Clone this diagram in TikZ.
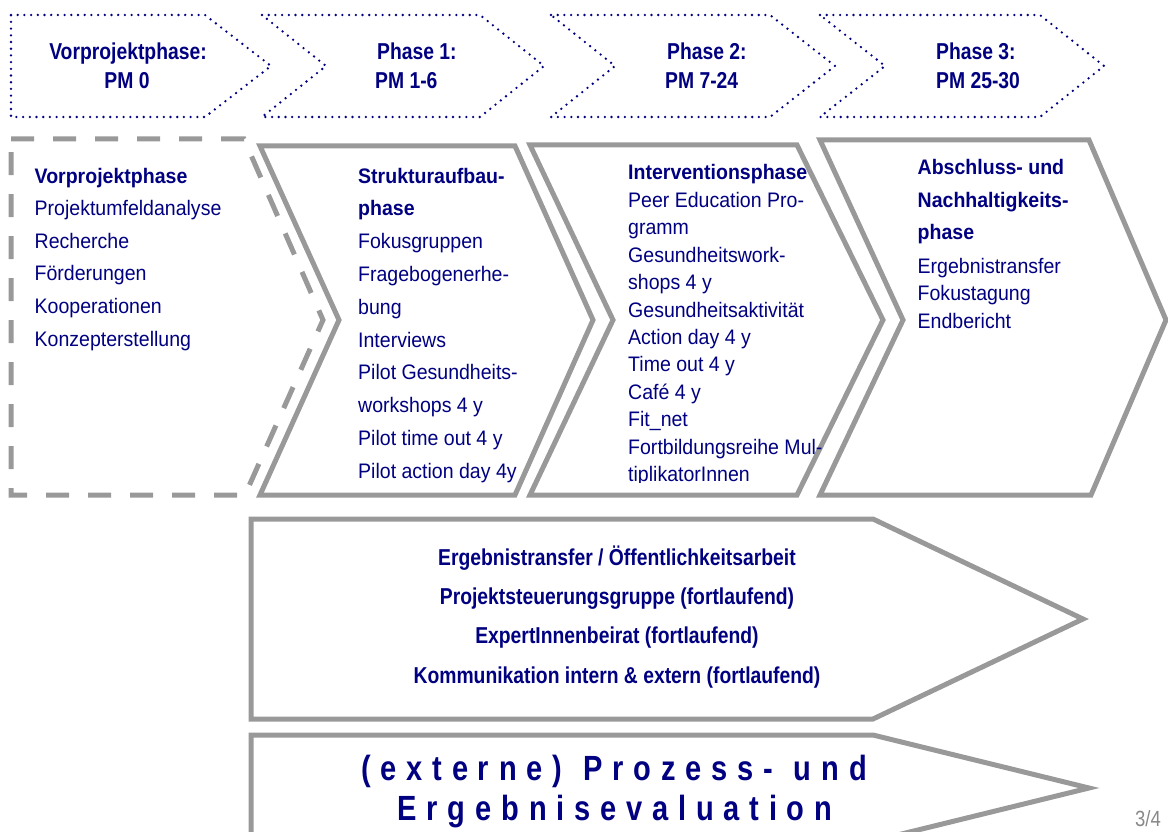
\documentclass[tikz,border=0pt]{standalone}
\usepackage{fontspec}
\setmainfont{Liberation Sans}
\newfontfamily\bodyfont[FakeStretch=0.93]{Liberation Sans}
\newfontfamily\narrowfont[FakeStretch=0.84]{Liberation Sans}
\newfontfamily\spacedfont[FakeStretch=0.83,LetterSpace=28]{Liberation Sans}
\definecolor{navy}{RGB}{0,0,128}
\definecolor{lgray}{RGB}{153,153,153}
\definecolor{pgray}{RGB}{136,136,136}
\begin{document}
\begin{tikzpicture}[x=1pt,y=-1pt,
  dotline/.style={draw=navy, line width=2.6pt, line cap=round, dash pattern=on 0pt off 6.7pt},
  grayline/.style={draw=lgray, line width=5pt, line join=miter},
  dashline/.style={draw=lgray, line width=5pt, dash pattern=on 23pt off 19pt},
  txt/.style={inner sep=0pt, text=navy, anchor=base west},
  body/.style={txt, font=\bodyfont\fontsize{21}{25}\selectfont},
  bodyb/.style={txt, font=\bodyfont\bfseries\fontsize{21}{25}\selectfont},
  head/.style={inner sep=0pt, text=navy, font=\narrowfont\bfseries\fontsize{23}{28}\selectfont},
  mid/.style={inner sep=0pt, text=navy, anchor=base, font=\narrowfont\bfseries\fontsize{23}{28}\selectfont},
  big/.style={inner sep=0pt, text=navy, anchor=base, font=\spacedfont\bfseries\fontsize{35}{40}\selectfont},
  pageno/.style={inner sep=0pt, text=pgray, anchor=base, font=\narrowfont\fontsize{22}{26}\selectfont}
]
\useasboundingbox (0,0) rectangle (1168,832);

% header chevrons (dotted)
\path[dotline] (11,15) -- (205,15) -- (271,66) -- (205,117) -- (11,117) -- cycle;
\path[dotline] (262,15) -- (480,15) -- (544,66) -- (480,117) -- (262,117) -- (326,66) -- cycle;
\path[dotline] (551,15) -- (770,15) -- (835,66) -- (770,117) -- (551,117) -- (615,66) -- cycle;
\path[dotline] (820,15) -- (1040,15) -- (1104,66) -- (1040,117) -- (820,117) -- (885,66) -- cycle;

% phase boxes
\path[dashline] (11,139) -- (244,139) -- (323,320) -- (245,495) -- (11,495) -- cycle;
\path[grayline] (260,146) -- (515,146) -- (593,320) -- (515,495) -- (260,495) -- (339,320) -- cycle;
\path[grayline] (530,145) -- (797,145) -- (883,320) -- (797,495) -- (530,495) -- (613,320) -- cycle;
\path[grayline] (820,140) -- (1089,140) -- (1166,320) -- (1091,495) -- (820,495) -- (903,320) -- cycle;

% bottom arrows
\path[grayline] (251,519) -- (873,519) -- (1083,619) -- (873,719) -- (251,719) -- cycle;
\path[grayline] (251,735) -- (873,735) -- (1089,788) -- (873,841) -- (251,841) -- cycle;

% header texts
\node[head, anchor=base] (h0a) at (128,60) {Vorprojektphase:};
\node[head, anchor=base] (h0b) at (127,89) {PM 0};
\node[head, anchor=base west] (h1a) at (377,60) {Phase 1:};
\node[head, anchor=base west] (h1b) at (375,89) {PM 1-6};
\node[head, anchor=base west] (h2a) at (667,60) {Phase 2:};
\node[head, anchor=base west] (h2b) at (665,89) {PM 7-24};
\node[head, anchor=base west] (h3a) at (936,60) {Phase 3:};
\node[head, anchor=base west] (h3b) at (936,89) {PM 25-30};

% Vorprojektphase
\node[bodyb] (v0) at (34.5,184) {Vorprojektphase};
\foreach \t [count=\i] in {Projektumfeldanalyse, Recherche, F\"orderungen, Kooperationen, Konzepterstellung}
  \node[body] (v\i) at (34.5,182.5+32.8*\i) {\t};

% Strukturaufbauphase
\node[bodyb] (s0) at (358,183) {Strukturaufbau-};
\node[bodyb] (s1) at (358,215.8) {phase};
\foreach \t [count=\i from 2] in {Fokusgruppen, Fragebogenerhe-, bung, Interviews, Pilot Gesundheits-, workshops 4 y, Pilot time out 4 y, Pilot action day 4y}
  \node[body] (s\i) at (358,183+32.8*\i) {\t};

% Interventionsphase
\node[bodyb] (i0) at (628,180) {Interventionsphase};
\begin{scope}
\clip (600,150) rectangle (900,482);
\foreach \t [count=\i] in {Peer Education Pro-, gramm, Gesundheitswork-, shops 4 y, Gesundheitsaktivit\"at, Action day 4 y, Time out 4 y, Caf\'e 4 y, Fit\_net, Fortbildungsreihe Mul-, tiplikatorInnen}
  \node[body] (i\i) at (628,180+27.4*\i) {\t};
\end{scope}

% Abschlussphase
\node[bodyb] (a0) at (917.5,175) {Abschluss- und};
\node[bodyb] (a1) at (917.5,207.5) {Nachhaltigkeits-};
\node[bodyb] (a2) at (917.5,240) {phase};
\foreach \t [count=\i from 3] in {Ergebnistransfer, Fokustagung, Endbericht}
  \node[body] (a\i) at (917.5,273+27.5*\i-82.5) {\t};

% bottom arrow 1 texts
\node[mid] (b0) at (617,565) {Ergebnistransfer / \"Offentlichkeitsarbeit};
\node[mid] (b1) at (617,604.3) {Projektsteuerungsgruppe (fortlaufend)};
\node[mid] (b2) at (617,643.6) {ExpertInnenbeirat (fortlaufend)};
\node[mid] (b3) at (617,683) {Kommunikation intern \& extern (fortlaufend)};

% bottom arrow 2 texts
\node[big] (e0) at (614,780) {(externe)\kern21pt Prozess-\kern21pt und};
\node[big] (e1) at (615,820) {Ergebnisevaluation};

\node[pageno] (pg) at (1148,826) {3/4};
\end{tikzpicture}
\end{document}
